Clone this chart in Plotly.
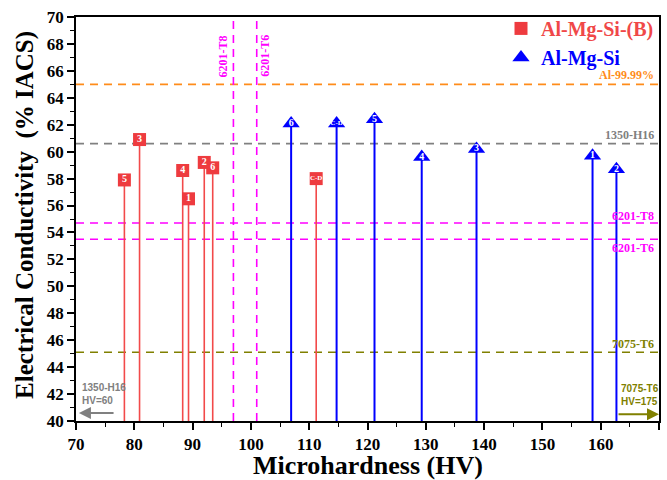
import plotly.graph_objects as go

# ---- data ----
b_hv = [89.3, 92.0, 80.9, 88.3, 78.3, 93.45, 111.2]
b_ec = [56.5, 59.2, 60.9, 58.6, 57.9, 58.8, 58.0]
b_lab = ["1", "2", "3", "4", "5", "6", "C-D"]

a_hv = [158.6, 162.7, 138.7, 129.3, 121.2, 106.9, 114.7]
a_ec = [59.7, 58.7, 60.2, 59.6, 62.4, 62.1, 62.1]
a_lab = ["1", "2", "3", "4", "5", "6", "C-D"]

h_names = ["Al-99.99%", "1350-H16", "6201-T8", "6201-T6", "7075-T6"]
h_vals = [65.0, 60.6, 54.7, 53.5, 45.1]
h_colors = ["#FF8C1A", "#808080", "#FF00FF", "#FF00FF", "#808000"]
h_shift = [9, 9, 7, -9, 8]

v_names = ["6201-T8", "6201-T6"]
v_vals = [97.0, 101.0]
v_shift = [-10, 8]

RED = "#EE3B3F"
RED_STEM = "#F24A4A"
BLUE = "#0000FF"
SERIF = "Liberation Serif"
Y0 = 40

def stems(xs, ys):
    sx, sy = [], []
    for x, y in zip(xs, ys):
        sx += [x, x, None]
        sy += [Y0, y, None]
    return sx, sy

fig = go.Figure()

# horizontal reference lines
for n, v, c in zip(h_names, h_vals, h_colors):
    fig.add_shape(type="line", xref="paper", x0=0, x1=1, yref="y", y0=v, y1=v,
                  line=dict(color=c, width=1.6, dash="8px,6px"), layer="below")
# vertical reference lines
for n, v in zip(v_names, v_vals):
    fig.add_shape(type="line", xref="x", x0=v, x1=v, yref="paper", y0=0, y1=1,
                  line=dict(color="#FF00FF", width=1.6, dash="8px,6px"), layer="below")

sx, sy = stems(b_hv, b_ec)
fig.add_trace(go.Scatter(x=sx, y=sy, mode="lines", line=dict(color=RED_STEM, width=1.6),
                         showlegend=False, hoverinfo="skip"))
sx, sy = stems(a_hv, a_ec)
fig.add_trace(go.Scatter(x=sx, y=sy, mode="lines", line=dict(color=BLUE, width=2),
                         showlegend=False, hoverinfo="skip"))

fig.add_trace(go.Scatter(x=b_hv, y=b_ec, mode="markers",
                         marker=dict(symbol="square", size=13, color=RED, line=dict(width=0)),
                         name="<span style='color:#F04848'>Al-Mg-Si-(B)</span>"))
fig.add_trace(go.Scatter(x=a_hv, y=a_ec, mode="markers",
                         marker=dict(symbol="triangle-up", size=15, color=BLUE, line=dict(width=0)),
                         name="<span style='color:#0000FF'>Al-Mg-Si</span>"))

sizes_b = [10 if len(t) == 1 else 7 for t in b_lab]
sizes_a = [10 if len(t) == 1 else 7 for t in a_lab]
fig.add_trace(go.Scatter(x=b_hv, y=b_ec, mode="text", text=b_lab, textposition="middle center",
                         textfont=dict(color="white", size=sizes_b, family=SERIF, weight="bold"),
                         showlegend=False, hoverinfo="skip"))
fig.add_trace(go.Scatter(x=a_hv, y=a_ec, mode="text", text=a_lab, textposition="middle center",
                         textfont=dict(color="white", size=sizes_a, family=SERIF, weight="bold"),
                         showlegend=False, hoverinfo="skip"))

ann = []
for n, v, c, s in zip(h_names, h_vals, h_colors, h_shift):
    ann.append(dict(x=1, xref="paper", y=v, yref="y", text="<b>%s</b>" % n, showarrow=False,
                    xanchor="right", yanchor="middle", xshift=-3, yshift=s,
                    font=dict(family=SERIF, size=12, color=c)))
for n, v, s in zip(v_names, v_vals, v_shift):
    ann.append(dict(x=v, xref="x", y=67.1, yref="y", text="<b>%s</b>" % n, showarrow=False,
                    textangle=-90, xanchor="center", yanchor="middle", xshift=s,
                    font=dict(family=SERIF, size=12, color="#FF00FF")))

# bottom-left and bottom-right notes
ann.append(dict(x=0, xref="paper", y=Y0, yref="y", text="<b>1350-H16<br>HV=60</b>", showarrow=False,
                xanchor="left", yanchor="bottom", xshift=4, yshift=13, align="left",
                font=dict(family="Liberation Sans", size=10, color="#808080")))
ann.append(dict(x=70.5, y=40.6, ax=76.7, ay=40.6, xref="x", yref="y", axref="x", ayref="y",
                text="", showarrow=True, arrowhead=2, arrowsize=1.2, arrowwidth=2, arrowcolor="#808080"))
ann.append(dict(x=162.8, xref="x", y=Y0, yref="y", text="<b>7075-T6<br>HV=175</b>", showarrow=False,
                xanchor="left", yanchor="bottom", xshift=2, yshift=12, align="left",
                font=dict(family="Liberation Sans", size=10, color="#808000")))
ann.append(dict(x=170, y=40.5, ax=162.8, ay=40.5, xref="x", yref="y", axref="x", ayref="y",
                text="", showarrow=True, arrowhead=2, arrowsize=1.2, arrowwidth=2, arrowcolor="#808000"))

# axis titles
ann.append(dict(x=0.5, xref="paper", y=-0.11, yref="paper", text="<b>Microhardness (HV)</b>",
                showarrow=False, xanchor="center", yanchor="middle",
                font=dict(family=SERIF, size=26, color="black")))
ann.append(dict(x=-0.0875, xref="paper", y=0.51, yref="paper", text="<b>Electrical Conductivity  (% IACS)</b>",
                showarrow=False, xanchor="center", yanchor="middle", textangle=-90,
                font=dict(family=SERIF, size=25, color="black")))

fig.update_layout(
    width=667, height=480,
    margin=dict(l=76, r=8, t=17, b=59),
    plot_bgcolor="white", paper_bgcolor="white",
    font=dict(family=SERIF, color="black"),
    annotations=ann,
    legend=dict(x=1, xanchor="right", y=1.02, yanchor="top", bgcolor="rgba(0,0,0,0)",
                font=dict(family=SERIF, size=20, weight="bold"), tracegroupgap=0,
                itemsizing="trace"),
    xaxis=dict(range=[70, 170], dtick=10, tick0=70, showgrid=False, zeroline=False,
               showline=True, linecolor="black", linewidth=1.6, mirror=True, automargin=False,
               ticks="outside", ticklen=7, tickwidth=1.5, tickcolor="black",
               minor=dict(dtick=5, ticks="outside", ticklen=4, tickwidth=1.2, tickcolor="black"),
               tickfont=dict(family=SERIF, size=17, weight="bold")),
    yaxis=dict(range=[40, 70], dtick=2, tick0=40, showgrid=False, zeroline=False,
               showline=True, linecolor="black", linewidth=1.6, mirror=True, automargin=False,
               ticks="outside", ticklen=7, tickwidth=1.5, tickcolor="black",
               minor=dict(dtick=1, ticks="outside", ticklen=4, tickwidth=1.2, tickcolor="black"),
               tickfont=dict(family=SERIF, size=17, weight="bold")),
)

fig.write_html("out.html")
